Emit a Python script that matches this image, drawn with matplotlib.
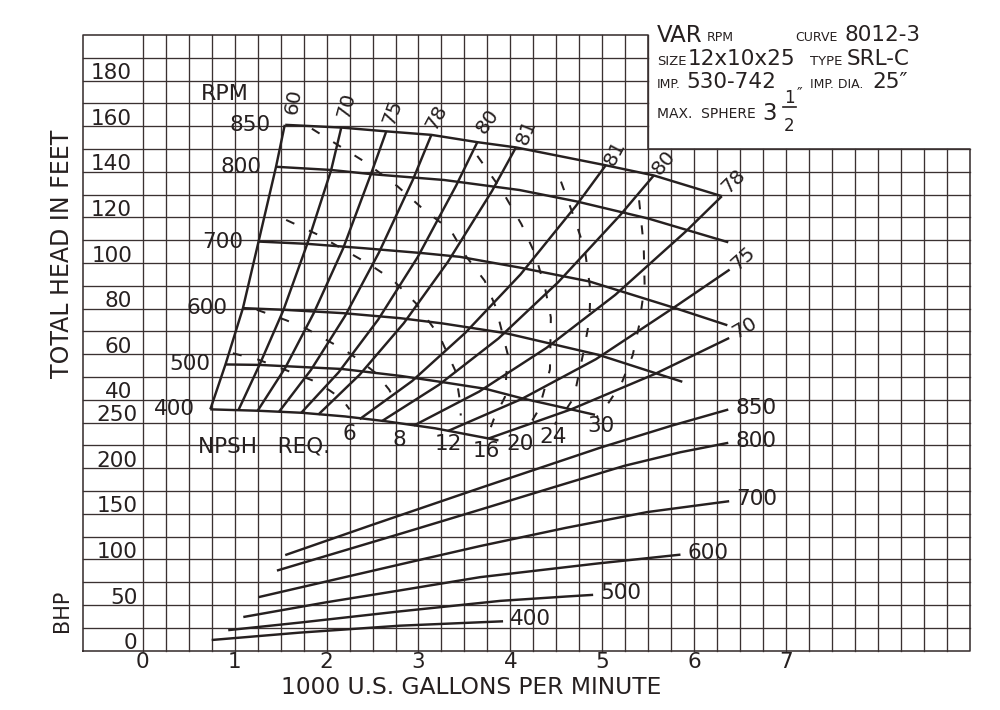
import matplotlib
matplotlib.use("Agg")
import matplotlib.pyplot as plt
import numpy as np

INK = "#262020"
GRIDC = "#3a3131"
FONT = "DejaVu Sans"
plt.rcParams['font.family'] = [FONT]

# ---------------- data (1000 US GPM, feet, BHP) ----------------
gpm_ticks = [0, 1, 2, 3, 4, 5, 6, 7]
head_ticks = [40, 60, 80, 100, 120, 140, 160, 180]
bhp_ticks = [0, 50, 100, 150, 200, 250]

# head-capacity curves by speed
q850 = [1.55, 2.16, 2.63, 3.14, 3.64, 4.06, 5.02, 5.56, 6.30]
h850 = [160.6, 159.4, 157.8, 156.2, 153.0, 150.7, 143.0, 138.4, 129.3]
q800 = [1.45, 2.05, 2.48, 3.28, 4.10, 4.72, 5.50, 6.37]
h800 = [142.2, 140.8, 139.0, 136.4, 132.0, 127.0, 119.5, 109.1]
q700 = [1.26, 1.79, 2.40, 3.05, 3.45, 4.10, 4.86, 5.77, 6.36]
h700 = [109.4, 108.4, 106.5, 104.3, 102.7, 98.0, 91.9, 80.5, 72.7]
q600 = [1.09, 1.525, 2.18, 2.80, 3.26, 3.95, 4.96, 5.87]
h600 = [80.2, 79.5, 78.0, 75.8, 73.5, 69.2, 59.7, 47.9]
q500 = [0.90, 1.27, 2.17, 2.80, 3.30, 3.73, 4.12, 4.67, 4.92]
h500 = [55.5, 55.3, 53.5, 50.5, 47.5, 44.8, 40.7, 35.7, 33.4]
q400 = [0.735, 1.25, 1.73, 2.20, 2.64, 3.18, 3.87]
h400 = [35.8, 35.2, 34.3, 32.7, 30.6, 27.5, 22.2]
rpm_names = ["850", "800", "700", "600", "500", "400"]

# iso-efficiency lines (solid)
e60_q = [0.735, 0.90, 1.09, 1.26, 1.45, 1.545]
e60_h = [35.8, 55.5, 80.2, 109.4, 142.2, 160.6]
e70_q = [1.04, 1.27, 1.53, 1.79, 2.05, 2.16]
e70_h = [35.4, 55.3, 79.3, 108.4, 140.8, 159.4]
e75_q = [1.25, 1.55, 1.86, 2.18, 2.48, 2.65]
e75_h = [35.2, 54.0, 78.0, 106.4, 138.7, 157.8]
e78_q = [1.48, 1.83, 2.20, 2.57, 2.94, 3.14]
e78_h = [34.6, 53.1, 76.7, 104.6, 136.6, 156.2]
e80_q = [1.72, 2.13, 2.56, 2.99, 3.41, 3.64]
e80_h = [34.1, 52.0, 75.1, 102.5, 134.0, 153.0]
e81_q = [1.91, 2.36, 2.84, 3.32, 3.80, 4.06]
e81_h = [33.5, 51.0, 73.6, 100.5, 131.6, 150.7]
e81r_q = [2.36, 2.93, 3.51, 4.11, 4.71, 5.04]
e81r_h = [31.5, 48.2, 69.4, 95.0, 124.9, 143.0]
e80r_q = [2.60, 3.22, 3.87, 4.52, 5.19, 5.56]
e80r_h = [30.6, 46.5, 66.9, 91.6, 120.8, 138.4]
e78r_q = [2.95, 3.66, 4.39, 5.14, 5.91, 6.30]
e78r_h = [28.7, 43.6, 62.7, 86.0, 113.9, 129.3]
e75r_q = [3.32, 4.12, 4.93, 5.78, 6.385]
e75r_h = [26.3, 40.3, 57.8, 80.5, 97.1]
e70r_q = [3.76, 4.66, 5.57, 6.38]
e70r_h = [23.0, 35.8, 51.3, 67.1]
eff_names = ["60", "70", "75", "78", "80", "81", "81", "80", "78", "75", "70"]

# NPSH required (dashed)
n6_q = [0.98, 1.25, 1.52, 1.84, 2.03, 2.17, 2.25]
n6_h = [60.4, 57.7, 53.6, 48.6, 44.2, 40.2, 35.8]
n8_q = [1.24, 1.56, 1.78, 2.01, 2.21, 2.39, 2.53, 2.68, 2.75]
n8_h = [79.5, 74.9, 71.2, 66.0, 61.5, 56.3, 51.9, 44.5, 39.4]
n12_q = [1.56, 1.89, 2.47, 2.72, 2.97, 3.23, 3.40, 3.45, 3.46]
n12_h = [118.9, 112.7, 99.3, 92.6, 82.4, 67.8, 52.8, 39.7, 33.1]
n16_q = [1.84, 2.43, 2.77, 3.06, 3.35, 3.52, 3.72, 3.84, 3.97, 3.94, 3.82, 3.76]
n16_h = [158.9, 144.0, 133.7, 123.3, 114.4, 102.8, 92.2, 80.7, 60.1, 41.2, 31.6, 25.1]
n20_q = [3.64, 3.91, 4.12, 4.27, 4.38, 4.44, 4.43, 4.31, 4.18]
n20_h = [147.0, 131.6, 117.0, 103.8, 88.4, 76.1, 53.3, 35.8, 27.1]
n24_q = [4.55, 4.69, 4.81, 4.87, 4.86, 4.80, 4.75, 4.69, 4.59, 4.48]
n24_h = [135.7, 120.3, 105.8, 88.2, 75.1, 61.9, 52.3, 40.9, 34.8, 29.2]
n30_q = [5.40, 5.45, 5.46, 5.40, 5.33, 5.21, 5.03, 4.94]
n30_h = [127.5, 107.7, 90.2, 72.6, 59.5, 47.3, 36.4, 32.5]
npsh_names = ["6", "8", "12", "16", "20", "24", "30"]

# brake horsepower curves
b850_q = [1.55, 2.50, 3.68, 4.99, 5.75, 6.37]
b850_p = [104.7, 138.0, 178.6, 222.9, 246.5, 264.3]
b800_q = [1.46, 2.81, 3.68, 4.45, 5.24, 5.85, 6.37]
b800_p = [87.7, 128.3, 154.8, 178.5, 202.6, 217.5, 227.8]
b700_q = [1.26, 2.985, 3.67, 4.60, 5.49, 6.38]
b700_p = [58.6, 98.8, 114.6, 134.5, 151.9, 163.8]
b600_q = [1.094, 2.00, 2.80, 3.67, 4.94, 5.85]
b600_p = [36.8, 53.0, 66.0, 80.5, 95.4, 105.2]
b500_q = [0.93, 1.71, 2.80, 3.89, 4.61, 4.90]
b500_p = [22.4, 30.7, 43.0, 54.5, 59.3, 61.1]
b400_q = [0.75, 1.71, 2.80, 3.92]
b400_p = [11.6, 19.7, 27.3, 32.1]

# ---------------- figure ----------------
fig = plt.figure(figsize=(10, 7.1), dpi=100)
fig.patch.set_facecolor("white")
ax = fig.add_axes([0.083, 0.0837, 0.887, 0.867])
ax.set_xlim(-0.65, 9.0)
ax.set_ylim(-70, 200)
ax.axis("off")
ax2 = ax.twinx()
ax2.set_ylim(0, 675)
ax2.axis("off")

# grid with cut-out for the title block
for gx in np.arange(0, 9.0, 0.25):
    top = 200 if gx <= 5.5 else 150
    ax.plot([gx, gx], [-70, top], color=GRIDC, lw=0.95, clip_on=False, zorder=1)
for gy in range(-60, 200, 10):
    right = 9.0 if gy <= 150 else 5.5
    ax.plot([-0.65, right], [gy, gy], color=GRIDC, lw=0.95, clip_on=False, zorder=1)
ax.plot([-0.65, -0.65, 5.5, 5.5, 9.0, 9.0, -0.65],
        [-70, 200, 200, 150, 150, -70, -70], color=GRIDC, lw=1.15,
        clip_on=False, zorder=1)

LW = 1.75
FS = 15.5
kw = dict(color=INK, lw=LW, solid_capstyle="butt", solid_joinstyle="round",
          zorder=3, clip_on=False)

# head curves
rpm_q = [q850, q800, q700, q600, q500, q400]
rpm_h = [h850, h800, h700, h600, h500, h400]
for name, q, h in zip(rpm_names, rpm_q, rpm_h):
    ax.plot(q, h, **kw)
    ax.annotate(name, xy=(q[0], h[0]), xytext=(-15, 0), textcoords="offset pixels",
                ha="right", va="center", fontsize=FS, color=INK)
ax.text(0.89, 174.2, "RPM", fontsize=16, color=INK, ha="center", va="center")

# efficiency lines
eff_q = [e60_q, e70_q, e75_q, e78_q, e80_q, e81_q, e81r_q, e80r_q, e78r_q, e75r_q, e70r_q]
eff_h = [e60_h, e70_h, e75_h, e78_h, e80_h, e81_h, e81r_h, e80r_h, e78r_h, e75r_h, e70r_h]
eff_off = [(9, 23), (5, 22), (6, 19), (5, 18), (10, 21), (10, 15),
           (9, 12), (10, 13), (12, 15), (14, 11), (16, 10)]
eff_rot = [80, 75, 70, 62, 55, 68, 62, 50, 45, 42, 30]
for name, q, h, off, rot in zip(eff_names, eff_q, eff_h, eff_off, eff_rot):
    ax.plot(q, h, **kw)
    ax.annotate(name, xy=(q[-1], h[-1]), xytext=off, textcoords="offset pixels",
                ha="center", va="center", fontsize=14.5, color=INK, rotation=rot,
                rotation_mode="anchor")

# NPSH dashed curves
npsh_q = [n6_q, n8_q, n12_q, n16_q, n20_q, n24_q, n30_q]
npsh_h = [n6_h, n8_h, n12_h, n16_h, n20_h, n24_h, n30_h]
npsh_lbl = [(2.25, 24.8), (2.79, 22.4), (3.33, 20.8), (3.74, 17.6),
            (4.10, 20.5), (4.47, 23.5), (4.98, 28.5)]
for name, q, h, pos in zip(npsh_names, npsh_q, npsh_h, npsh_lbl):
    ax.plot(q, h, color=INK, lw=1.45, dashes=(4.5, 8), zorder=3)
    ax.text(pos[0], pos[1], name, fontsize=FS, color=INK, ha="center", va="center")
ax.text(0.60, 19.7, "NPSH   REQ.", fontsize=15.5, color=INK, ha="left", va="center")

# BHP curves
bhp_q = [b850_q, b800_q, b700_q, b600_q, b500_q, b400_q]
bhp_p = [b850_p, b800_p, b700_p, b600_p, b500_p, b400_p]
for name, q, p in zip(rpm_names, bhp_q, bhp_p):
    ax2.plot(q, p, **kw)
    ax2.annotate(name, xy=(q[-1], p[-1]), xytext=(7, 2), textcoords="offset pixels",
                 ha="left", va="center", fontsize=FS, color=INK)

# axis tick labels
for h in head_ticks:
    ax.text(-0.115, h + 0.6, str(h), fontsize=FS, color=INK, ha="right", va="baseline")
for b in bhp_ticks:
    ax2.text(-0.06, b + 1.5, str(b), fontsize=FS, color=INK, ha="right", va="baseline")
for g in gpm_ticks:
    ax.text(g, -75.2, str(g), fontsize=FS, color=INK, ha="center", va="center")

fig.text(0.471, 0.031, "1000 U.S. GALLONS PER MINUTE", fontsize=16.8, color=INK,
         ha="center", va="center")
fig.text(0.062, 0.642, "TOTAL HEAD IN FEET", fontsize=17, color=INK,
         ha="center", va="center", rotation=90)
fig.text(0.062, 0.139, "BHP", fontsize=15, color=INK, ha="center", va="center",
         rotation=90)

# title block
def tb(x, y, s, size):
    fig.text(x / 1000, 1 - y / 710, s, fontsize=size, color=INK, ha="left", va="baseline")

BIG, SMALL = 15.5, 9
tb(657, 42, "VAR", BIG + 1)
tb(707, 41, "RPM", SMALL)
tb(795, 41, "CURVE", SMALL)
tb(845, 41, "8012-3", BIG)
tb(657, 65, "SIZE", SMALL + 0.5)
tb(688, 65, "12x10x25", BIG)
tb(810, 65, "TYPE", SMALL + 0.5)
tb(847, 65, "SRL-C", BIG)
tb(657, 88, "IMP.", SMALL)
tb(686, 88, "530-742", BIG)
tb(810, 88, "IMP. DIA.", SMALL)
tb(872, 88, "25\u2033", BIG)
tb(657, 118, "MAX.  SPHERE", SMALL + 1)
tb(762, 120, "3", BIG + 1)
fig.text(789 / 1000, 1 - 103 / 710, "1", fontsize=12, color=INK, ha="center", va="baseline")
fig.text(789 / 1000, 1 - 131 / 710, "2", fontsize=12, color=INK, ha="center", va="baseline")
fig.add_artist(plt.Line2D([783 / 1000, 796 / 1000], [1 - 107 / 710, 1 - 107 / 710],
                          color=INK, lw=1.2))
fig.text(797 / 1000, 1 - 98 / 710, "\u2033", fontsize=11, color=INK, ha="left", va="baseline")

fig.savefig("out.png", dpi=100, facecolor="white")
